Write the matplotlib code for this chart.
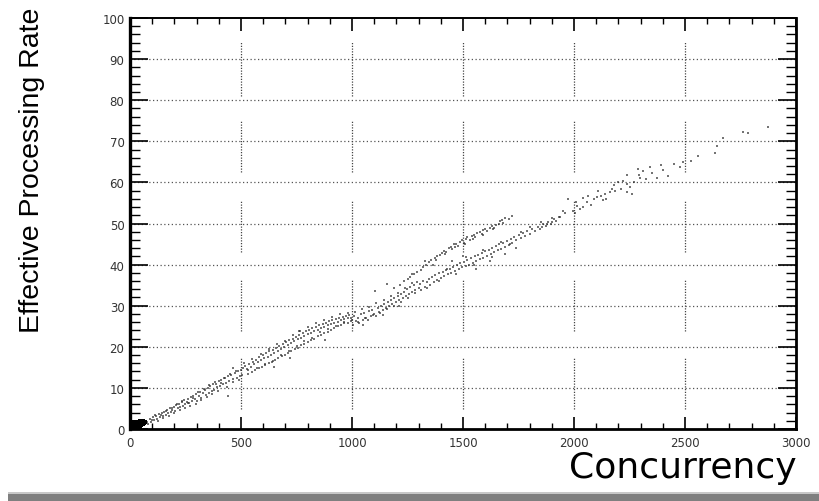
import matplotlib
matplotlib.use("Agg")
import matplotlib.pyplot as plt
from matplotlib.patches import Rectangle

# --- data (concurrency, effective processing rate) ---
origin_conc = [2, 5, 8, 10, 12, 15, 18, 20, 22, 25, 28, 30, 33, 35, 38, 40, 42, 45, 48, 50,
               52, 55, 58, 60, 63, 66, 4, 14, 24, 34, 44, 54, 9, 19, 29, 39, 49, 59, 3, 16, 31, 47]
origin_rate = [0.1, 0.2, 0.1, 0.3, 0.2, 0.4, 0.3, 0.5, 0.4, 0.6, 0.5, 0.7, 0.6, 0.8, 0.7, 0.9, 0.8, 1.0, 1.1, 1.0,
               1.2, 1.3, 1.2, 1.4, 1.5, 1.6, 0.8, 1.2, 1.5, 1.7, 1.9, 1.8, 1.1, 0.9, 1.0, 1.3, 1.6, 1.9, 1.5, 1.8, 1.8, 0.3]

low_conc = [75, 80, 90, 95, 105, 110, 118, 122, 130, 135, 142, 148, 155, 160, 166, 172, 178, 185, 190, 196,
            202, 208, 214, 220, 226, 232, 238, 244, 250, 255, 262, 268, 274, 280, 286, 292, 298, 304, 310, 316,
            322, 330, 336, 342, 350, 356, 362, 368, 374, 380, 388, 394, 400, 406, 412, 420, 428, 434, 441, 441,
            448, 456, 464, 464, 472, 480, 488, 494, 500, 505,
            100, 112, 125, 138, 150, 163, 175, 188, 200, 212, 224, 236, 248, 260, 272, 284, 296, 308, 320, 334,
            346, 358, 370, 383, 396, 410, 422, 436, 450, 462, 476, 490]
low_rate = [1.8, 1.2, 2.4, 1.6, 2.9, 2.1, 3.2, 2.5, 3.6, 2.8, 3.9, 3.1, 4.2, 3.4, 4.6, 3.8, 5.0, 4.1, 4.6, 5.4,
            4.3, 5.8, 5.0, 6.1, 5.3, 6.5, 5.7, 7.0, 6.0, 6.6, 7.4, 6.3, 7.8, 6.9, 8.1, 7.2, 8.6, 6.8, 8.0, 9.0,
            7.5, 8.8, 9.5, 8.2, 9.9, 8.7, 10.4, 9.3, 10.9, 9.6, 11.0, 10.1, 11.6, 10.5, 12.0, 10.9, 12.4, 11.3, 12.9, 8.0,
            11.7, 13.2, 14.8, 12.1, 13.6, 12.5, 14.0, 12.9, 14.3, 13.2,
            2.2, 3.4, 1.9, 3.5, 2.6, 4.4, 3.2, 5.1, 3.8, 6.0, 4.6, 6.8, 5.2, 6.4, 5.5, 7.6, 6.2, 8.9, 7.0, 9.7,
            7.9, 10.6, 8.6, 11.5, 9.2, 11.2, 12.3, 10.2, 13.4, 11.4, 14.0, 11.9]

mid_conc = [510, 520, 528, 536, 545, 552, 560, 568, 575, 582, 590, 598, 605, 612, 620, 628, 635, 642, 650, 658,
            665, 672, 680, 688, 695, 702, 710, 718, 725, 732, 740, 748, 755, 762, 770, 778, 785, 792, 800, 808,
            815, 822, 830, 838, 845, 852, 860, 868, 875, 882, 890, 898, 905, 912, 920, 928, 935, 942, 950, 958,
            965, 972, 980, 988, 995,
            530, 548, 565, 580, 596, 610, 625, 640, 655, 668, 684, 698, 712, 726, 742, 756, 770, 786, 800, 815,
            830, 845, 860, 875, 890, 905, 920, 936, 950, 966, 980, 996, 650, 720, 880, 760,
            515, 533, 551, 570, 588, 606, 624, 642, 660, 678, 696, 714, 732, 750, 768, 786, 804, 822, 840, 858,
            876, 894, 912, 930, 948, 966, 984, 1000]
mid_rate = [14.8, 15.3, 14.6, 15.9, 15.2, 16.4, 15.8, 16.9, 16.2, 17.4, 16.7, 17.9, 17.2, 18.4, 17.6, 18.9, 18.1, 19.3, 18.6, 19.8,
            19.0, 20.3, 19.5, 20.7, 20.0, 21.1, 20.4, 21.6, 20.9, 22.0, 21.3, 22.5, 21.8, 22.9, 22.2, 23.3, 22.6, 23.8, 23.0, 24.1,
            23.4, 24.6, 23.8, 24.9, 24.2, 25.3, 24.5, 25.6, 24.9, 25.9, 25.2, 26.2, 25.5, 26.5, 25.8, 26.8, 26.1, 27.0, 26.4, 27.3,
            26.7, 27.6, 26.9, 27.8, 27.1,
            13.4, 13.9, 14.3, 14.8, 15.1, 15.6, 16.0, 16.4, 16.9, 17.2, 17.7, 18.1, 18.6, 18.9, 19.5, 19.8, 20.4, 20.8, 21.2, 21.7,
            22.0, 22.6, 22.9, 23.4, 23.7, 24.2, 24.5, 25.0, 25.2, 25.7, 25.9, 26.3, 15.0, 17.2, 21.6, 23.8,
            16.0, 14.3, 17.0, 14.9, 18.2, 15.8, 19.4, 16.6, 20.6, 17.9, 21.5, 19.0, 22.8, 20.1, 23.9, 21.5, 24.8, 22.2, 25.7, 23.5,
            26.4, 24.3, 27.3, 25.0, 28.0, 26.0, 28.3, 26.5]

band_conc = [1005, 1010, 1018, 1025, 1032, 1040, 1048, 1055, 1062, 1070, 1078, 1085, 1092, 1100, 1108, 1115, 1122, 1130, 1138, 1145,
             1152, 1160, 1158, 1168, 1175, 1182, 1190, 1198, 1205, 1212, 1220, 1228, 1235, 1242, 1248, 1255, 1262, 1270, 1270, 1278,
             1285, 1292, 1300, 1104, 1140, 1210, 1050,
             1012, 1028, 1044, 1060, 1076, 1093, 1110, 1126, 1142, 1158, 1174, 1190, 1206, 1222, 1238, 1254, 1270, 1286]
band_rate = [25.4, 27.6, 26.2, 27.0, 25.9, 27.9, 26.6, 28.3, 27.1, 26.5, 28.6, 27.6, 29.0, 28.0, 27.4, 29.5, 28.5, 30.0, 28.9, 30.4,
             29.4, 31.0, 35.3, 29.9, 31.4, 30.4, 31.9, 30.9, 32.4, 31.3, 32.9, 31.8, 33.4, 32.3, 34.0, 32.8, 34.6, 33.3, 37.7, 35.1,
             33.8, 35.7, 34.3, 33.6, 27.8, 29.9, 25.3,
             28.4, 26.0, 29.1, 26.9, 29.7, 27.8, 30.6, 28.3, 31.5, 29.2, 32.3, 30.0, 33.2, 30.8, 34.3, 31.9, 35.6, 33.0]

upper_conc = [1190, 1215, 1232, 1250, 1262, 1280, 1295, 1310, 1322, 1335, 1345, 1358, 1365, 1372, 1385, 1396, 1405, 1415, 1425, 1435,
              1445, 1452, 1460, 1470, 1478, 1488, 1496, 1505, 1512, 1520, 1530, 1540, 1548, 1556, 1565, 1575, 1584, 1592, 1600, 1610,
              1620, 1630, 1640, 1650, 1660, 1668, 1676, 1690, 1721,
              1330, 1380, 1420, 1465, 1510, 1545, 1590, 1635, 1680, 1705]
upper_rate = [34.2, 35.0, 35.9, 36.4, 37.0, 37.6, 38.3, 38.8, 39.5, 40.0, 40.7, 41.0, 39.9, 41.6, 42.0, 42.3, 42.8, 43.4, 43.1, 44.0,
              44.3, 43.7, 44.9, 45.1, 44.6, 45.6, 45.9, 45.3, 46.2, 46.6, 46.0, 47.0, 47.3, 46.8, 47.6, 48.0, 47.5, 48.3, 48.6, 48.1,
              49.0, 49.3, 48.8, 49.7, 50.0, 50.6, 50.9, 51.3, 51.8,
              40.8, 41.0, 42.5, 44.2, 45.0, 46.3, 47.2, 48.6, 50.2, 51.0]

lower_conc = [1305, 1312, 1320, 1328, 1336, 1345, 1352, 1360, 1368, 1376, 1384, 1392, 1400, 1408, 1416, 1424, 1432, 1440, 1448, 1456,
              1464, 1472, 1480, 1488, 1496, 1504, 1512, 1520, 1528, 1536, 1544, 1552, 1560, 1568, 1576, 1584, 1592, 1600, 1608, 1616,
              1624, 1632, 1640, 1648, 1656, 1664, 1672, 1680, 1688, 1696, 1705, 1714, 1722, 1730, 1740, 1750, 1760, 1770, 1780, 1790,
              1800, 1812, 1824, 1836, 1848, 1860, 1872, 1884, 1896, 1908, 1920, 1932,
              1560, 1620, 1690, 1740, 1500, 1450,
              1340, 1390, 1430, 1470, 1515, 1550, 1590, 1630, 1670, 1710, 1760, 1800, 1850, 1900]
lower_rate = [35.2, 33.9, 36.0, 34.6, 35.7, 36.6, 35.1, 36.9, 35.8, 37.4, 36.3, 37.9, 36.8, 38.2, 37.2, 38.6, 37.6, 39.0, 38.0, 39.4,
              38.4, 39.9, 38.9, 40.3, 39.3, 40.7, 39.7, 41.0, 40.0, 41.5, 40.5, 42.0, 40.9, 42.3, 41.3, 42.8, 41.7, 43.2, 42.2, 43.6,
              42.5, 44.0, 43.0, 44.5, 43.5, 44.9, 43.8, 45.3, 44.4, 45.8, 44.8, 46.2, 45.3, 46.7, 45.9, 47.1, 46.4, 47.6, 46.9, 48.2,
              47.5, 48.6, 48.1, 49.2, 48.7, 49.8, 49.3, 50.4, 49.9, 51.0, 50.6, 51.6,
              38.9, 40.8, 42.6, 44.0, 42.0, 40.8,
              34.3, 36.0, 38.9, 37.8, 41.8, 39.9, 43.5, 41.9, 45.6, 45.0, 48.0, 49.2, 50.4, 51.4]

tail_conc = [1856, 1878, 1901, 1937, 1950, 1973, 1995, 2004, 2015, 2025, 2040, 2041, 2060, 2075, 2090, 2104, 2120, 2130, 2140, 2144,
             2160, 2171, 2185, 2198, 2221, 2239, 2239, 2239, 2252, 2261, 2288, 2293, 2297, 2324, 2342, 2351, 2374, 2392, 2423, 2477,
             2491, 2527, 2559, 2635, 2644, 2671, 2761, 2784, 2874,
             1960, 2010, 2065, 2110, 2180, 2210, 2270, 2310, 2400, 2450]
tail_rate = [49.1, 49.9, 50.4, 51.6, 53.0, 56.0, 53.0, 52.5, 54.3, 53.6, 54.0, 56.2, 55.2, 54.6, 55.9, 56.4, 56.8, 55.6, 57.2, 56.0,
             57.6, 58.4, 57.9, 60.1, 60.3, 61.8, 59.6, 57.7, 58.9, 57.2, 63.3, 61.8, 61.0, 60.8, 63.7, 62.3, 61.0, 64.2, 61.6, 63.7,
             65.0, 65.2, 66.4, 67.2, 68.9, 70.8, 72.3, 72.0, 73.5,
             52.5, 55.2, 56.8, 57.9, 59.3, 58.5, 60.2, 62.7, 62.9, 64.5]

x_ticks = [0, 500, 1000, 1500, 2000, 2500, 3000]
y_ticks = [0, 10, 20, 30, 40, 50, 60, 70, 80, 90, 100]
# broken vertical grid segments as they appear in the picture
vgrid_pieces = [(4.9, 17.5), (23.8, 36.5), (43.1, 55.5), (62.5, 74.9), (81.0, 94.2)]

fig = plt.figure(figsize=(8.2, 5.02), dpi=100)
ax = fig.add_axes([130 / 820, 1 - 430 / 502, 666 / 820, 411 / 502])

# grid
for y in y_ticks[1:-1]:
    ax.axhline(y, color="#555555", lw=0.9, ls=(0, (1, 2)), zorder=1)
for x in x_ticks[1:-1]:
    for a, b in vgrid_pieces:
        ax.plot([x, x], [a, b], color="#444444", lw=0.9, ls=(0, (1, 1.2)), zorder=1)

groups = [(low_conc, low_rate), (mid_conc, mid_rate), (band_conc, band_rate),
          (upper_conc, upper_rate), (lower_conc, lower_rate), (tail_conc, tail_rate)]
for cx, ry in groups:
    ax.scatter(cx, ry, s=3, marker="s", color="#2a2a2a", alpha=0.65, linewidths=0, zorder=3)
# the solid clump at the origin
ax.scatter(origin_conc, origin_rate, s=9, marker="s", color="black", linewidths=0, zorder=3)

ax.set_xlim(0, 3000)
ax.set_ylim(0, 100)
ax.set_xticks(x_ticks)
ax.set_xticks(range(0, 3001, 100), minor=True)
ax.set_yticks(y_ticks)
ax.set_yticks(range(0, 101, 2), minor=True)
ax.tick_params(which="both", direction="in", top=True, right=True, color="black")
ax.tick_params(axis="x", which="major", length=9, width=1.2, pad=5)
ax.tick_params(axis="x", which="minor", length=4.5, width=1.0)
ax.tick_params(axis="y", which="major", length=13, width=1.2, pad=4)
ax.tick_params(axis="y", which="minor", length=7, width=1.0)
ax.tick_params(labelsize=8.5, labelcolor="#333333")

ax.spines["left"].set_linewidth(2.4)
ax.spines["bottom"].set_linewidth(2.0)
ax.spines["right"].set_linewidth(2.0)
ax.spines["top"].set_linewidth(1.4)

fig.text(32 / 820, 1 - 170 / 502, "Effective Processing Rate", rotation=90, ha="center", va="center",
         fontsize=20.5, family="Liberation Sans", color="black")
fig.text(797 / 820, 1 - 478 / 502, "Concurrency", ha="right", va="baseline",
         fontsize=26, family="DejaVu Sans", color="black")

# grey strip along the bottom
fig.patches.append(Rectangle((8 / 820, 0), 1, 7 / 502, transform=fig.transFigure,
                             facecolor="#7f7f7f", edgecolor="none"))
fig.patches.append(Rectangle((8 / 820, 7 / 502), 1, 2 / 502, transform=fig.transFigure,
                             facecolor="#c8c8c8", edgecolor="none"))

fig.savefig("out.png", dpi=100)
